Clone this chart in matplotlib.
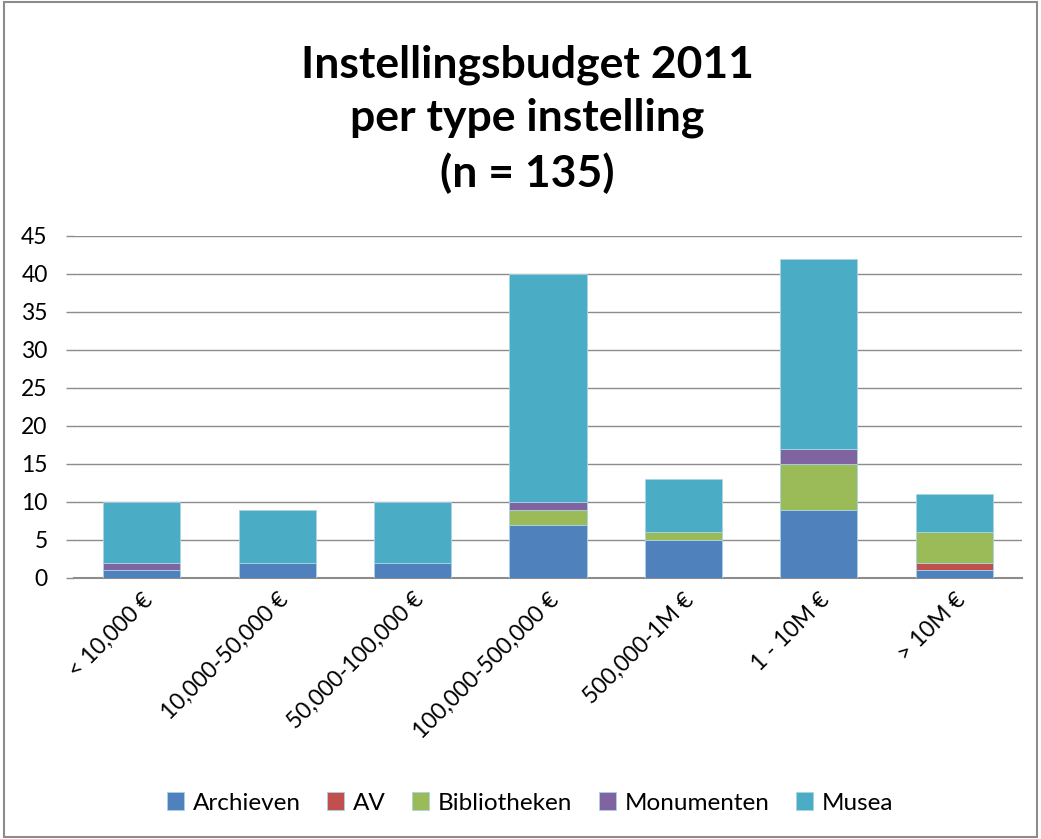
import matplotlib
matplotlib.use("Agg")
import matplotlib.pyplot as plt
import numpy as np
from matplotlib.patches import Rectangle

categories = ["< 10,000 €", "10,000-50,000 €", "50,000-100,000 €", "100,000-500,000 €",
              "500,000-1M €", "1 - 10M €", "> 10M €"]
archieven = [1, 2, 2, 7, 5, 9, 1]
av = [0, 0, 0, 0, 0, 0, 1]
bibliotheken = [0, 0, 0, 2, 1, 6, 4]
monumenten = [1, 0, 0, 1, 0, 2, 0]
musea = [8, 7, 8, 30, 7, 25, 5]
series_names = ["Archieven", "AV", "Bibliotheken", "Monumenten", "Musea"]
colors = ["#4F81BD", "#C0504D", "#9BBB59", "#8064A2", "#4BACC6"]
yticks = [0, 5, 10, 15, 20, 25, 30, 35, 40, 45]

plt.rcParams['font.family'] = ['Lato', 'DejaVu Sans']

fig = plt.figure(figsize=(10.41, 8.39), dpi=100)
ax = fig.add_axes([74/1041, 1-578/839, 948/1041, (578-236)/839])

x = np.arange(len(categories))
bottom = np.zeros(len(categories))
for name, vals, c in zip(series_names, [archieven, av, bibliotheken, monumenten, musea], colors):
    ax.bar(x, vals, bottom=bottom, width=0.57, color=c, edgecolor='#a9d4e3', linewidth=0.6,
           label=name, zorder=3)
    bottom += np.array(vals)

ax.set_xlim(-0.5, len(categories) - 0.5)
ax.set_ylim(0, 45)
ax.set_yticks(yticks)
ax.set_yticklabels([str(v) for v in yticks], fontsize=16.5)
ax.yaxis.grid(True, color='#8c8c8c', linewidth=1.0, zorder=0)
ax.set_axisbelow(True)
for s in ['top', 'right', 'left']:
    ax.spines[s].set_visible(False)
ax.spines['bottom'].set_color('#8c8c8c')
ax.spines['bottom'].set_linewidth(1.5)
ax.tick_params(axis='y', length=6, color='#8c8c8c', width=1.0, pad=13)
ax.tick_params(axis='x', length=0, pad=8)
ax.set_xticks(x)
ax.set_xticklabels(categories, rotation=45, ha='right', rotation_mode='anchor', fontsize=16.5)

fig.text(527/1041, 1-119/839, "Instellingsbudget 2011\nper type instelling\n(n = 135)",
         ha='center', va='center', fontsize=32, fontweight='bold', linespacing=1.4)

handles, labels = ax.get_legend_handles_labels()
leg = fig.legend(handles, labels, loc='center', bbox_to_anchor=(530/1041, 1-803/839), ncol=5,
                 frameon=False, fontsize=17.5, handlelength=0.7, handleheight=0.7,
                 columnspacing=1.1, handletextpad=0.35)

fig.patches.append(Rectangle((0.004, 0.002), 0.992, 0.996, transform=fig.transFigure,
                             fill=False, edgecolor='#8c8c8c', linewidth=1.5))

fig.savefig("out.png", dpi=100)
